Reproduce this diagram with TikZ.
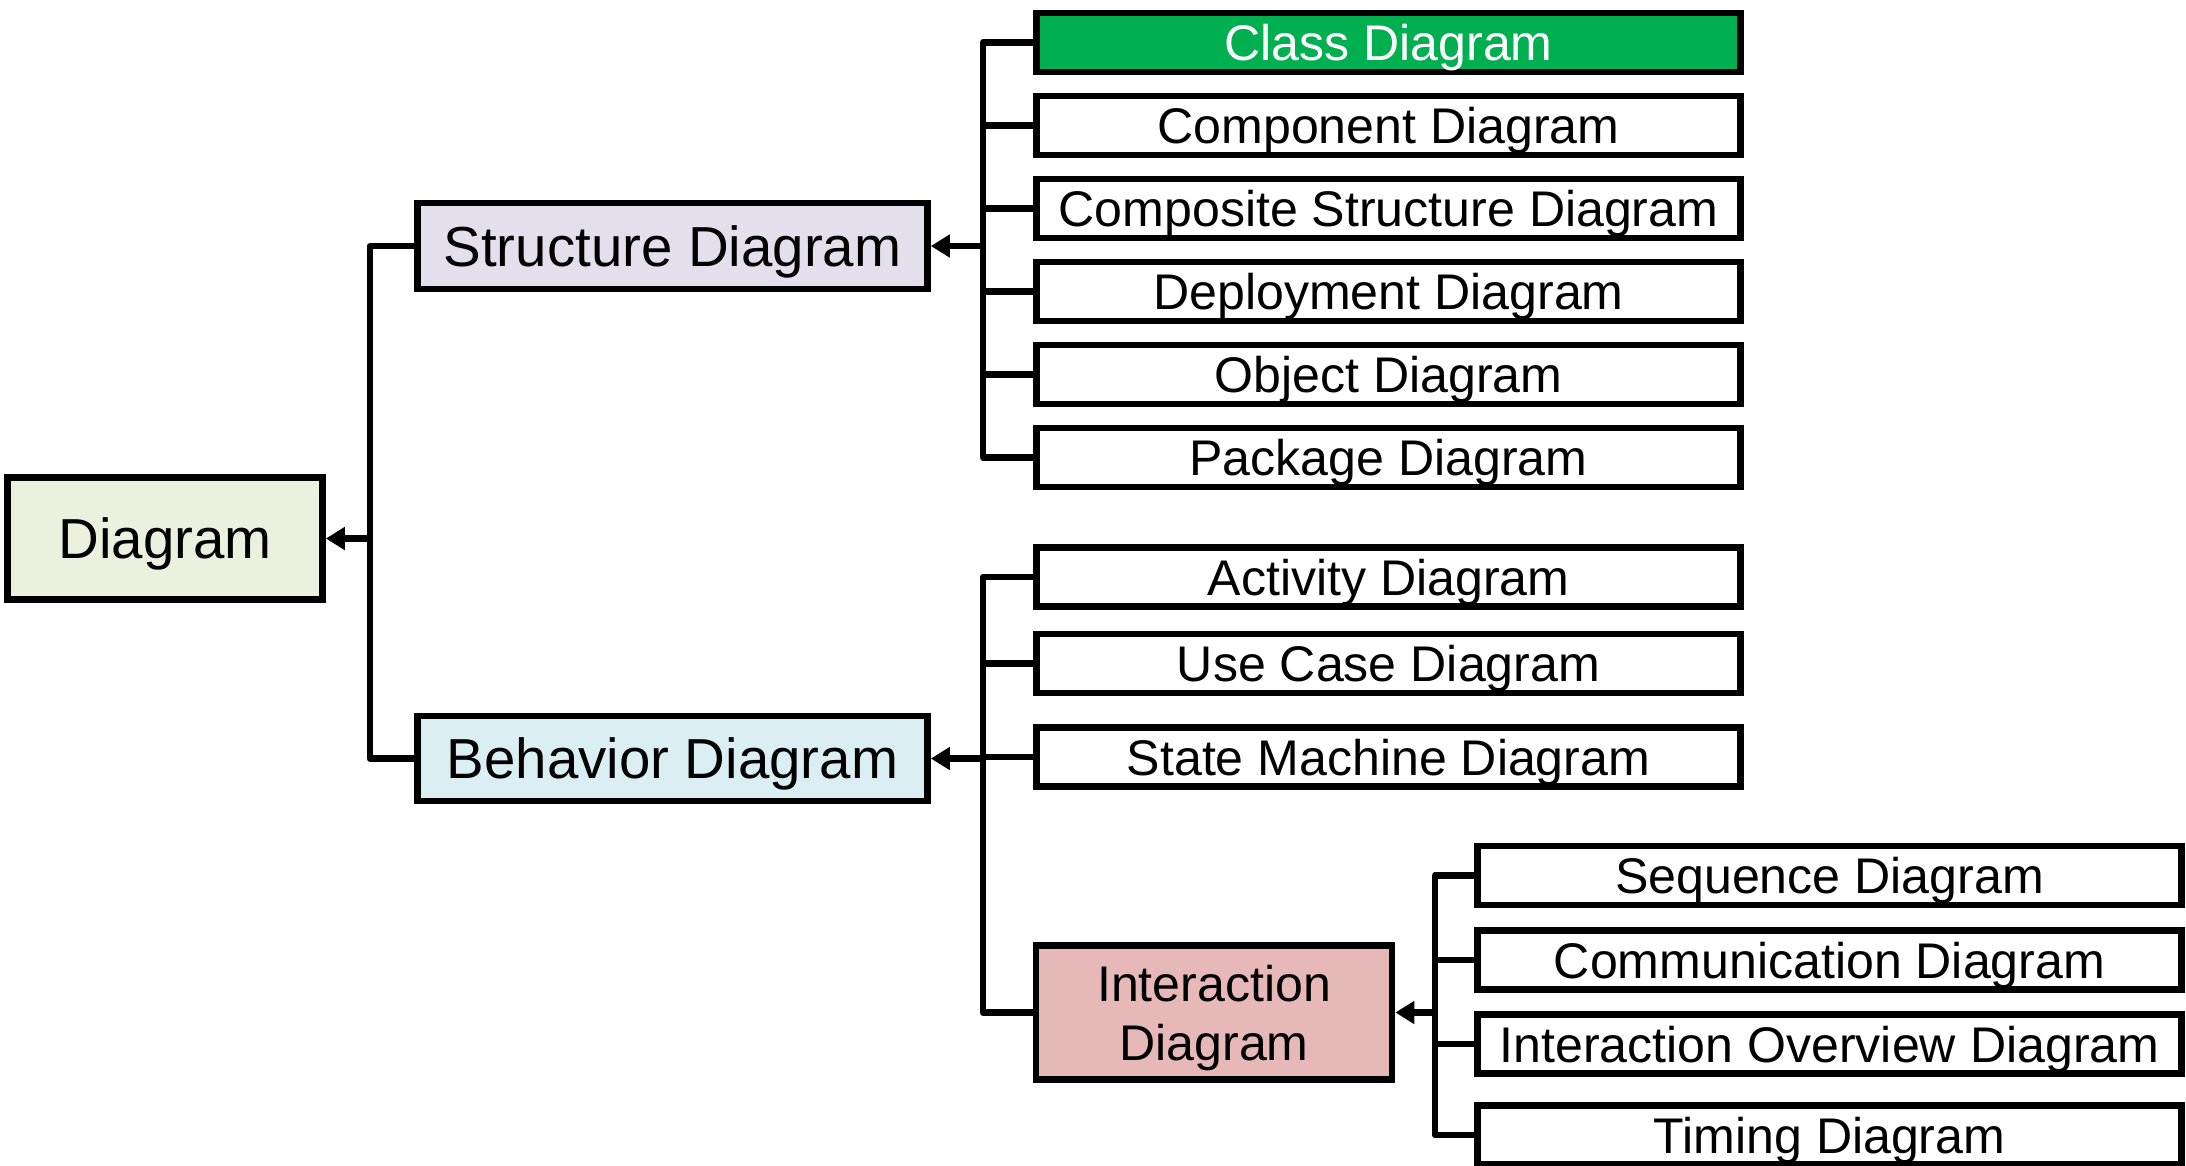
\documentclass[tikz,border=0pt]{standalone}
\usepackage{fontspec}
\setmainfont{Liberation Sans}
\usepackage{xcolor}
\usepackage{tikz}
\usetikzlibrary{arrows.meta,positioning}
\definecolor{umlolive}{RGB}{235,241,222}
\definecolor{umllilac}{RGB}{228,223,236}
\definecolor{umlsky}{RGB}{218,238,243}
\definecolor{umlrose}{RGB}{230,185,184}
\definecolor{umlgreen}{RGB}{0,176,80}

\begin{document}
\begin{tikzpicture}[line width=1.9pt,
  kindbox/.style={draw, rectangle, align=center, inner sep=0pt, text depth=0pt, font=\fontsize{16.05}{19}\selectfont},
  leafbox/.style={draw, rectangle, fill=white, minimum width=7.04cm, minimum height=0.59cm, inner sep=0pt, text depth=0pt, font=\fontsize{14.25}{16.8}\selectfont},
  wire/.style={line join=round},
  feed/.style={-{Triangle[length=0.19cm,width=0.22cm]}}]
  \useasboundingbox (0,0) rectangle (21.86,-11.65);

  \node[kindbox, fill=umlolive, minimum width=3.15cm, minimum height=1.22cm] (diag) at (1.65,-5.385) {Diagram};
  \node[kindbox, fill=umllilac, minimum width=5.10cm, minimum height=0.86cm] (struct) at (6.725,-2.46) {Structure Diagram};
  \node[kindbox, fill=umlsky, minimum width=5.10cm, minimum height=0.85cm] (behav) at (6.725,-7.585) {Behavior Diagram};

  \node[leafbox, fill=umlgreen, text=white] (s1) at (13.885,-0.425) {Class Diagram};
  \node[leafbox] (s2) at (13.885,-1.255) {Component Diagram};
  \node[leafbox] (s3) at (13.885,-2.085) {Composite Structure Diagram};
  \node[leafbox] (s4) at (13.885,-2.915) {Deployment Diagram};
  \node[leafbox] (s5) at (13.885,-3.745) {Object Diagram};
  \node[leafbox] (s6) at (13.885,-4.575) {Package Diagram};

  \node[leafbox] (b1) at (13.885,-5.77) {Activity Diagram};
  \node[leafbox] (b2) at (13.885,-6.635) {Use Case Diagram};
  \node[leafbox] (b3) at (13.885,-7.57) {State Machine Diagram};
  \node[kindbox, fill=umlrose, minimum width=3.56cm, minimum height=1.34cm, font=\fontsize{14.25}{16.8}\selectfont] (inter) at (12.14,-10.125) {Interaction\\Diagram};

  \node[leafbox] (i1) at (18.295,-8.755) {Sequence Diagram};
  \node[leafbox] (i2) at (18.295,-9.60) {Communication Diagram};
  \node[leafbox] (i3) at (18.295,-10.44) {Interaction Overview Diagram};
  \node[leafbox] (i4) at (18.295,-11.35) {Timing Diagram};

  % bus lines
  \coordinate (dbus) at (3.70,0);
  \coordinate (sbus) at (9.83,0);
  \coordinate (ibus) at (14.35,0);

  \draw[wire] (struct.west) -- (struct.west -| dbus) -- (behav.west -| dbus) -- (behav.west);
  \draw[feed] (diag.east -| dbus) -- (diag.east);

  \draw[wire] (s1.west) -- (s1.west -| sbus) -- (s6.west -| sbus) -- (s6.west);
  \foreach \i in {2,...,5}
    \draw (s\i.west -| sbus) -- (s\i.west);
  \draw[feed] (struct.east -| sbus) -- (struct.east);

  \draw[wire] (b1.west) -- (b1.west -| sbus) -- (inter.west -| sbus) -- (inter.west);
  \foreach \i in {2,3}
    \draw (b\i.west -| sbus) -- (b\i.west);
  \draw[feed] (behav.east -| sbus) -- (behav.east);

  \draw[wire] (i1.west) -- (i1.west -| ibus) -- (i4.west -| ibus) -- (i4.west);
  \foreach \i in {2,3}
    \draw (i\i.west -| ibus) -- (i\i.west);
  \draw[feed] (inter.east -| ibus) -- (inter.east);
\end{tikzpicture}
\end{document}
